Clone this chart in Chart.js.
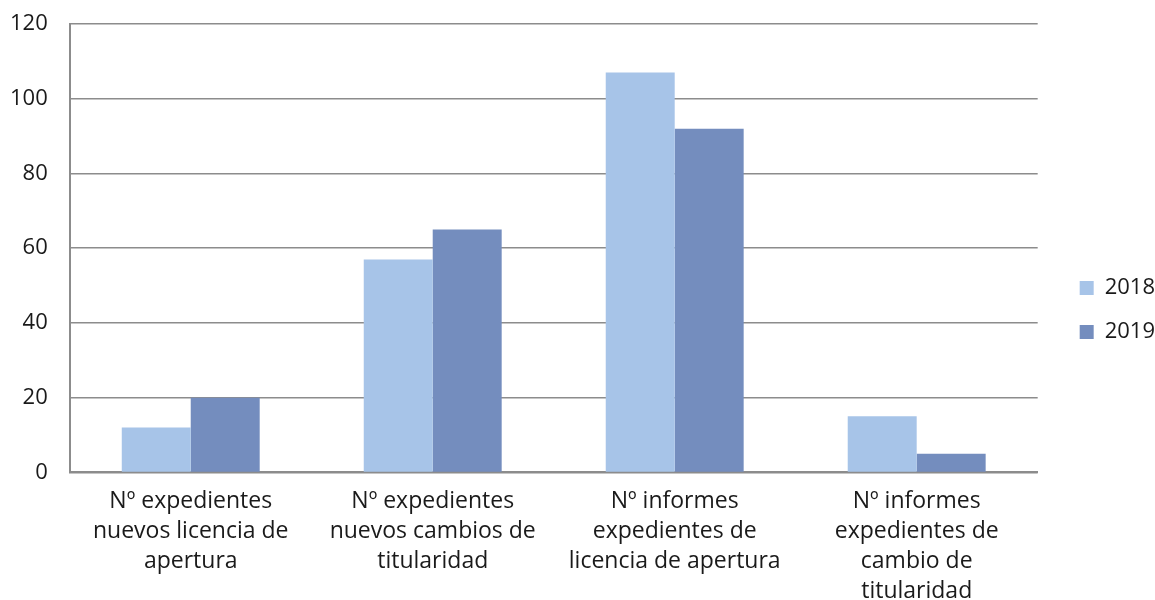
<!DOCTYPE html>
<html>
<head>
<meta charset="utf-8">
<script src="https://cdn.jsdelivr.net/npm/chart.js@4"></script>
<style>
  html, body { margin: 0; padding: 0; background: #fff; }
  #wrap { width: 1155px; height: 600px; }
</style>
</head>
<body>
<div id="wrap"><canvas id="chart"></canvas></div>
<script>
const categories = [
  ["Nº expedientes", "nuevos licencia de", "apertura"],
  ["Nº expedientes", "nuevos cambios de", "titularidad"],
  ["Nº informes", "expedientes de", "licencia de apertura"],
  ["Nº informes", "expedientes de", "cambio de", "titularidad"],
];
const values2018 = [12, 57, 107, 15];
const values2019 = [20, 65, 92, 5];

const FONT = "'Open Sans', sans-serif";
const GRID = "#8c8c8c";

// legend: fixed width so the plot ends at the right place, items nudged
const legendPlace = {
  id: "legendPlace",
  beforeInit(chart) {
    const fit = chart.legend.fit;
    chart.legend.fit = function () {
      fit.call(this);
      this.width += 10;
    };
  },
  afterLayout(chart) {
    const lg = chart.legend;
    lg.left += 20;
    lg.right += 20;
    lg.top -= 12;
    lg.bottom -= 12;
  },
};

// keep labels from pushing the plot area inwards
function noPad(scale) {
  scale.paddingLeft = 0;
  scale.paddingRight = 0;
  scale.paddingTop = 0;
  scale.paddingBottom = 0;
}

new Chart(document.getElementById("chart"), {
  type: "bar",
  plugins: [legendPlace],
  data: {
    labels: categories,
    datasets: [
      {
        label: "2018",
        data: values2018,
        backgroundColor: "#a7c4e8",
        categoryPercentage: 0.57,
        barPercentage: 1,
      },
      {
        label: "2019",
        data: values2019,
        backgroundColor: "#748dbe",
        categoryPercentage: 0.57,
        barPercentage: 1,
      },
    ],
  },
  options: {
    animation: false,
    responsive: true,
    maintainAspectRatio: false,
    layout: { padding: { top: 24, left: -12, right: 0, bottom: -20 } },
    plugins: {
      tooltip: { enabled: false },
      legend: {
        position: "right",
        labels: {
          boxWidth: 14,
          boxHeight: 14,
          padding: 22,
          color: "#1a1a1a",
          font: { family: FONT, size: 22 },
        },
      },
    },
    scales: {
      x: {
        afterFit: noPad,
        grid: { display: false, drawTicks: false },
        border: { color: GRID, width: 2 },
        ticks: {
          color: "#1a1a1a",
          padding: 14,
          maxRotation: 0,
          font: { family: FONT, size: 23, lineHeight: 1.3 },
        },
      },
      y: {
        afterFit: noPad,
        min: 0,
        max: 120,
        grid: { color: GRID, lineWidth: 1.5, drawTicks: false },
        border: { color: GRID, width: 2 },
        ticks: {
          stepSize: 20,
          color: "#1a1a1a",
          padding: 22,
          font: { family: FONT, size: 22 },
        },
      },
    },
  },
});
</script>
</body>
</html>
